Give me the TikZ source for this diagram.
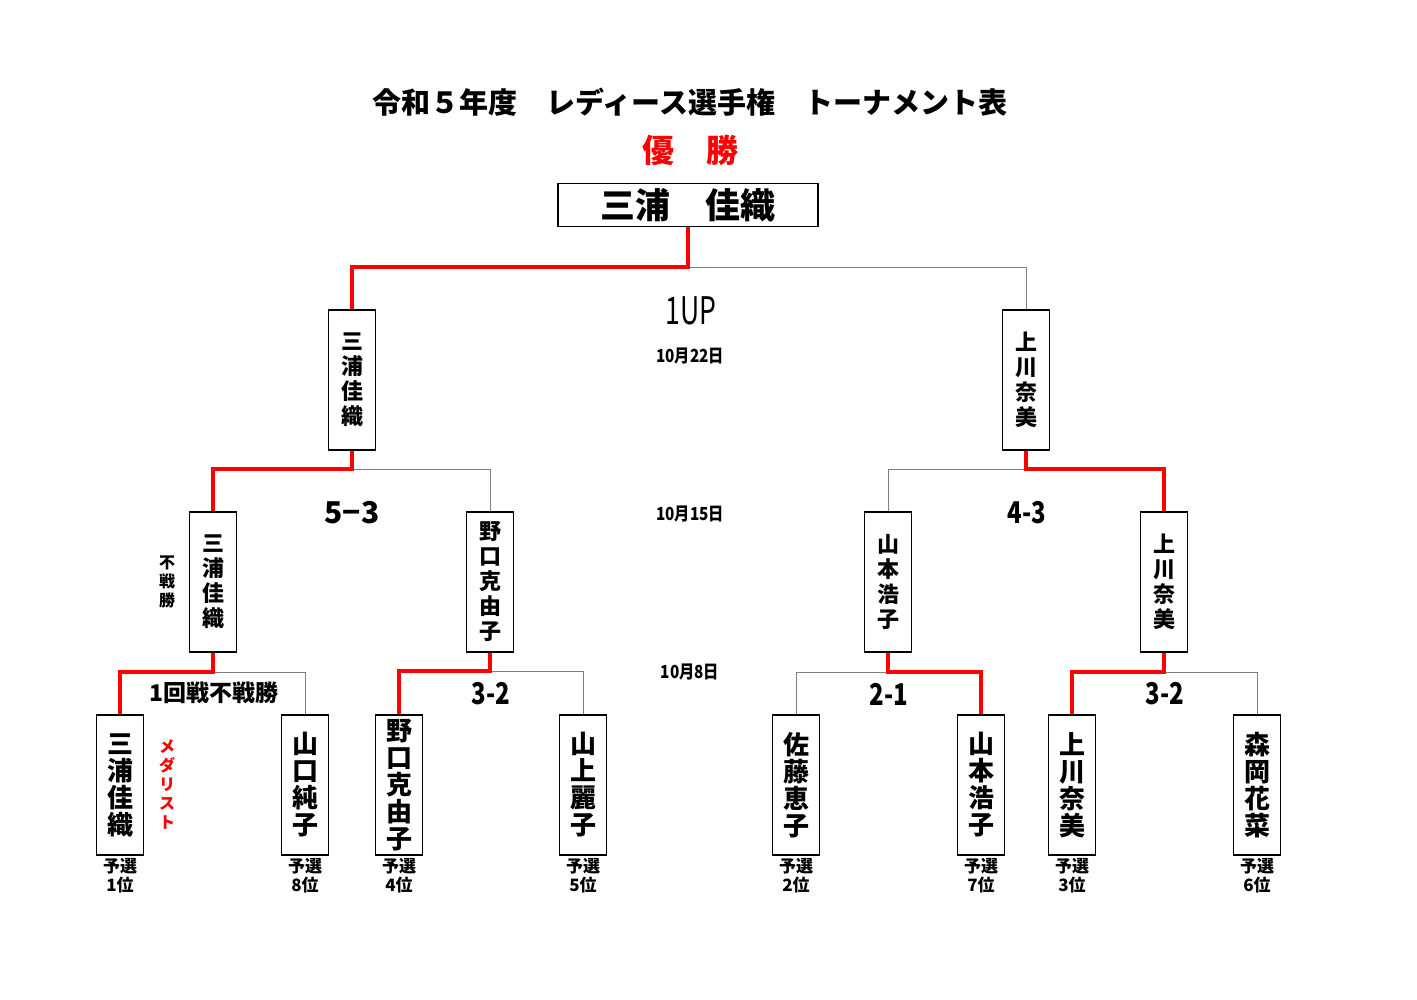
\documentclass[tikz,border=0pt]{standalone}
\usepackage{fontspec}
\setmainfont{Noto Sans CJK JP}
\usetikzlibrary{positioning}

\tikzset{
  player/.style={draw, line width=1.6pt, minimum width=47pt, minimum height=140pt,
    inner sep=0pt, align=center, font=\bfseries\fontsize{22}{25}\selectfont},
  first/.style={player, font=\bfseries\fontsize{26}{27}\selectfont},
  win/.style={draw=red, line width=4pt},
  lose/.style={draw=gray, line width=0.8pt},
  score/.style={font=\bfseries\fontsize{30}{30}\selectfont},
  date/.style={font=\bfseries\fontsize{18}{18}\selectfont, xscale=0.85},
  rank/.style={inner sep=1pt, align=center, font=\bfseries\fontsize{17}{19}\selectfont},
  note/.style={align=center, font=\bfseries\fontsize{16}{19}\selectfont}
}

\begin{document}
\begin{tikzpicture}[x=1pt,y=-1pt]
    \useasboundingbox (0,0) rectangle (1417,1000);
    % heading
    \node[font=\bfseries\fontsize{29}{29}\selectfont] (title) at (690,102) {令和５年度　レディース選手権　トーナメント表};
    \node[red, font=\bfseries\fontsize{32}{32}\selectfont] (yusho) at (690,150) {優　勝};
    \node[draw, line width=1.6pt, minimum width=260pt, minimum height=43pt, inner sep=0pt,
      font=\bfseries\fontsize{35}{35}\selectfont] (V) at (688,205) {三浦　佳織};
    % final
    \node[player] (S1) at (352,380) {三\\浦\\佳\\織};
    \node[player] (S2) at (1026,380) {上\\川\\奈\\美};
    % semi-finals
    \node[player] (Q1) at (213,582) {三\\浦\\佳\\織};
    \node[player] (Q2) at (490,582) {野\\口\\克\\由\\子};
    \node[player] (Q3) at (888,582) {山\\本\\浩\\子};
    \node[player] (Q4) at (1164,582) {上\\川\\奈\\美};
    % first round
    \node[first] (R1) at (120,785) {三\\浦\\佳\\織};
    \node[first] (R2) at (305,785) {山\\口\\純\\子};
    \node[first] (R3) at (399,785) {野\\口\\克\\由\\子};
    \node[first] (R4) at (583,785) {山\\上\\麗\\子};
    \node[first] (R5) at (796,785) {佐\\藤\\恵\\子};
    \node[first] (R6) at (981,785) {山\\本\\浩\\子};
    \node[first] (R7) at (1072,785) {上\\川\\奈\\美};
    \node[first] (R8) at (1257,785) {森\\岡\\花\\菜};
    % seeds
    \node[rank, below=1pt of R1] (p1) {予選\\1位};
    \node[rank, below=1pt of R2] (p8) {予選\\8位};
    \node[rank, below=1pt of R3] (p4) {予選\\4位};
    \node[rank, below=1pt of R4] (p5) {予選\\5位};
    \node[rank, below=1pt of R5] (p2) {予選\\2位};
    \node[rank, below=1pt of R6] (p7) {予選\\7位};
    \node[rank, below=1pt of R7] (p3) {予選\\3位};
    \node[rank, below=1pt of R8] (p6) {予選\\6位};
    % junctions
    \coordinate (j0) at (688,267);
    \coordinate (j1) at (352,469);
    \coordinate (j2) at (1026,469);
    \coordinate (j3) at (213,672);
    \coordinate (j4) at (490,671);
    \coordinate (j5) at (888,672);
    \coordinate (j6) at (1164,672);
    \draw[lose] (j0) -| (S2.north);
    \draw[lose] (j1) -| (Q2.north);
    \draw[lose] (j2) -| (Q3.north);
    \draw[lose] (j3) -| (R2.north);
    \draw[lose] (j4) -| (R4.north);
    \draw[lose] (j5) -| (R5.north);
    \draw[lose] (j6) -| (R8.north);
    \draw[win] (V.south) -- (j0) -| (S1.north);
    \draw[win] (S1.south) -- (j1) -| (Q1.north);
    \draw[win] (S2.south) -- (j2) -| (Q4.north);
    \draw[win] (Q1.south) -- (j3) -| (R1.north);
    \draw[win] (Q2.south) -- (j4) -| (R3.north);
    \draw[win] (Q3.south) -- (j5) -| (R6.north);
    \draw[win] (Q4.south) -- (j6) -| (R7.north);
    % results
    \node[font=\fontsize{38}{38}\selectfont, xscale=0.7] (up) at (691,311) {1UP};
    \node[score] (s53) at (352,513) {5−3};
    \node[score, xscale=0.8] (s43) at (1027,513) {4-3};
    \node[score, xscale=0.8] (s32a) at (491,694) {3-2};
    \node[score, xscale=0.8] (s21) at (889,694) {2-1};
    \node[score, xscale=0.8] (s32b) at (1165,694) {3-2};
    \node[font=\bfseries\fontsize{23}{23}\selectfont] (bye1) at (214,693) {1回戦不戦勝};
    \node[note] (bye2) at (167,582) {不\\戦\\勝};
    \node[note, red] (medal) at (167,784) {メ\\ダ\\リ\\ス\\ト};
    % dates
    \node[date] (d3) at (690,356) {10月22日};
    \node[date] (d2) at (690,514) {10月15日};
    \node[date] (d1) at (690,672) {10月8日};
  \end{tikzpicture}
\end{document}
